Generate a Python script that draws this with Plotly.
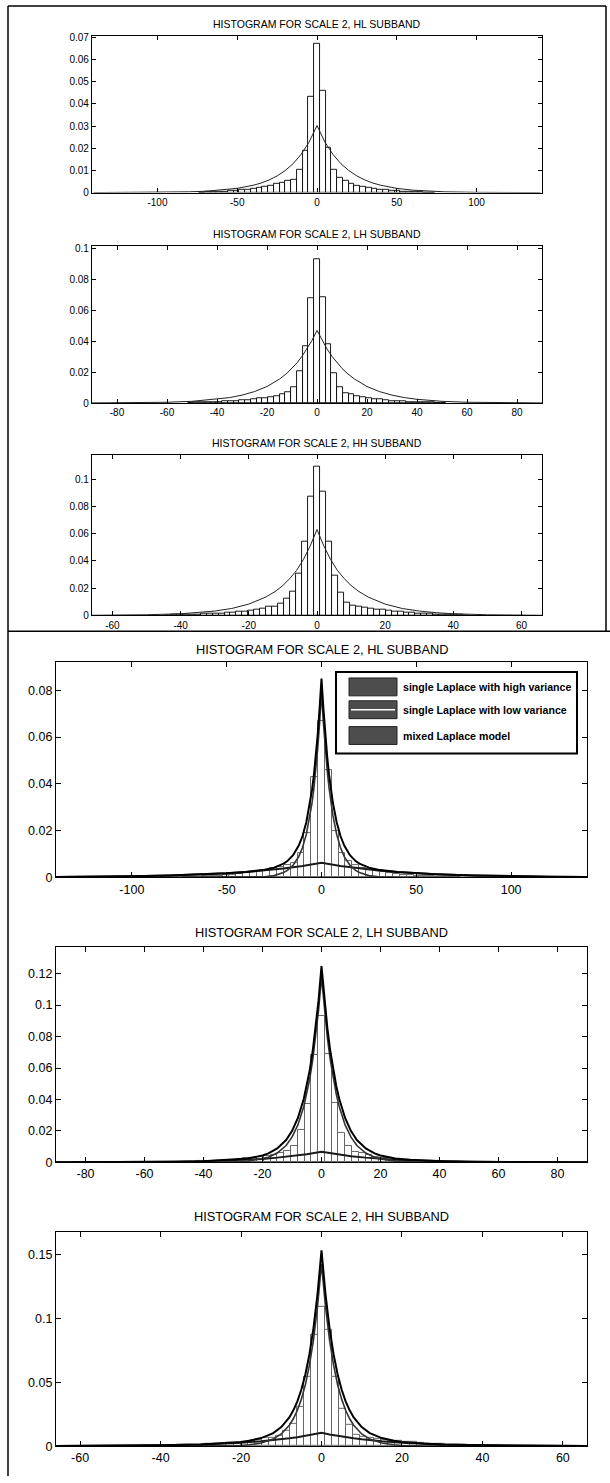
import plotly.graph_objects as go

W, H = 610, 1483

# ---------------- data ----------------
# Histogram bin centres and heights (same histograms appear in top and bottom halves)
hl_bins = [-72, -68.4, -64.8, -61.2, -57.6, -54, -50.4, -46.8, -43.2, -39.6, -36, -32.4, -28.8, -25.2,
           -21.6, -18, -14.4, -10.8, -7.2, -3.6, 0, 3.6, 7.2, 10.8, 14.4, 18, 21.6, 25.2, 28.8, 32.4,
           36, 39.6, 43.2, 46.8, 50.4, 54, 57.6, 61.2, 64.8, 68.4, 72]
hl_hist = [0.0001, 0.0002, 0.0003, 0.0004, 0.0005, 0.0007, 0.0009, 0.0011, 0.0014, 0.0017, 0.0021,
           0.0026, 0.0031, 0.0038, 0.0045, 0.0053, 0.006, 0.0105, 0.019, 0.043, 0.067, 0.046, 0.020,
           0.0105, 0.0068, 0.0053, 0.004, 0.0033, 0.0027, 0.0022, 0.0018, 0.0014, 0.0011, 0.0009,
           0.0007, 0.0005, 0.0004, 0.0003, 0.0002, 0.0001, 0.0001]
hl_width = 3.6

lh_bins = [-50.6, -48.3, -46, -43.7, -41.4, -39.1, -36.8, -34.5, -32.2, -29.9, -27.6, -25.3, -23, -20.7,
           -18.4, -16.1, -13.8, -11.5, -9.2, -6.9, -4.6, -2.3, 0, 2.3, 4.6, 6.9, 9.2, 11.5, 13.8, 16.1,
           18.4, 20.7, 23, 25.3, 27.6, 29.9, 32.2, 34.5, 36.8, 39.1, 41.4, 43.7, 46, 48.3, 50.6]
lh_hist = [0.0002, 0.0003, 0.0004, 0.0005, 0.0006, 0.0008, 0.001, 0.0012, 0.0015, 0.0018, 0.0021,
           0.0025, 0.0029, 0.0034, 0.004, 0.0047, 0.0057, 0.007, 0.0105, 0.0204, 0.037, 0.068, 0.093,
           0.0687, 0.038, 0.019, 0.0105, 0.0064, 0.0058, 0.0045, 0.0037, 0.0031, 0.0026, 0.0022,
           0.0018, 0.0015, 0.0012, 0.001, 0.0008, 0.0006, 0.0005, 0.0004, 0.0003, 0.0002, 0.0001]
lh_width = 2.3

hh_bins = [-43.75, -42, -40.25, -38.5, -36.75, -35, -33.25, -31.5, -29.75, -28, -26.25, -24.5, -22.75,
           -21, -19.25, -17.5, -15.75, -14, -12.25, -10.5, -8.75, -7, -5.25, -3.5, -1.75, 0, 1.75, 3.5,
           5.25, 7, 8.75, 10.5, 12.25, 14, 15.75, 17.5, 19.25, 21, 22.75, 24.5, 26.25, 28, 29.75, 31.5,
           33.25, 35, 36.75, 38.5, 40.25, 42, 43.75]
hh_hist = [0.0002, 0.0003, 0.0004, 0.0005, 0.0006, 0.0008, 0.001, 0.0012, 0.0014, 0.0016, 0.0019,
           0.0022, 0.0027, 0.0029, 0.0034, 0.0044, 0.005, 0.0063, 0.0066, 0.0085, 0.0124, 0.0177, 0.031,
           0.054, 0.087, 0.109, 0.091, 0.054, 0.029, 0.017, 0.0092, 0.0075, 0.0063, 0.0056, 0.0048,
           0.0041, 0.0039, 0.0036, 0.0031, 0.0026, 0.0021, 0.0018, 0.0015, 0.0012, 0.001, 0.0008,
           0.0006, 0.0005, 0.0004, 0.0003, 0.0002]
hh_width = 1.75

# Top half: single Laplace fit curves
hl_fit_x = [-140, -120, -100, -80, -70, -60, -50, -40, -35, -30, -25, -20, -15, -10, -5, 0,
            5, 10, 15, 20, 25, 30, 35, 40, 50, 60, 70, 80, 100, 120, 140]
hl_fit_y = [0.00001, 0.00004, 0.00012, 0.00035, 0.0006, 0.0011, 0.0019, 0.0033, 0.0043, 0.0057,
            0.0075, 0.0099, 0.0130, 0.0172, 0.0227, 0.0302, 0.0227, 0.0172, 0.0130, 0.0099, 0.0075,
            0.0057, 0.0043, 0.0033, 0.0019, 0.0011, 0.0006, 0.00035, 0.00012, 0.00004, 0.00001]

lh_fit_x = [-90, -80, -70, -60, -50, -40, -35, -30, -25, -20, -15, -12, -10, -8, -6, -4, -2, 0,
            2, 4, 6, 8, 10, 12, 15, 20, 25, 30, 35, 40, 50, 60, 70, 80, 90]
lh_fit_y = [0.00006, 0.00013, 0.00026, 0.0005, 0.0011, 0.0024, 0.0035, 0.0051, 0.0074, 0.0107,
            0.0155, 0.0193, 0.0224, 0.0260, 0.0302, 0.0350, 0.0405, 0.047, 0.0405, 0.0350, 0.0302,
            0.0260, 0.0224, 0.0193, 0.0155, 0.0107, 0.0074, 0.0051, 0.0035, 0.0024, 0.0011, 0.0005,
            0.00026, 0.00013, 0.00006]

hh_fit_x = [-66, -60, -50, -40, -35, -30, -25, -20, -15, -12, -10, -8, -6, -4, -2, 0,
            2, 4, 6, 8, 10, 12, 15, 20, 25, 30, 35, 40, 50, 60, 66]
hh_fit_y = [0.0001, 0.0002, 0.0005, 0.0012, 0.002, 0.0032, 0.0051, 0.0083, 0.0135, 0.018, 0.022,
            0.027, 0.033, 0.041, 0.051, 0.063, 0.051, 0.041, 0.033, 0.027, 0.022, 0.018, 0.0135,
            0.0083, 0.0051, 0.0032, 0.002, 0.0012, 0.0005, 0.0002, 0.0001]

# Bottom half: high-variance, low-variance and mixed Laplace curves
hl_high_x = [-140, -120, -100, -80, -60, -50, -40, -30, -20, -10, 0, 10, 20, 30, 40, 50, 60, 80, 100, 120, 140]
hl_high_y = [0.0002, 0.0003, 0.0005, 0.00085, 0.0014, 0.0018, 0.0023, 0.003, 0.0038, 0.0049, 0.0063,
             0.0049, 0.0038, 0.003, 0.0023, 0.0018, 0.0014, 0.00085, 0.0005, 0.0003, 0.0002]
hl_low_x = [-140, -50, -40, -30, -25, -20, -18, -15, -12, -10, -8, -6, -5, -4, -3, -2, -1, 0,
            1, 2, 3, 4, 5, 6, 8, 10, 12, 15, 18, 20, 25, 30, 40, 50, 140]
hl_low_y = [0, 0, 0.00005, 0.0003, 0.0008, 0.0021, 0.003, 0.0052, 0.0089, 0.0128, 0.0184, 0.0265,
            0.0318, 0.0381, 0.0458, 0.055, 0.0661, 0.079, 0.0661, 0.055, 0.0458, 0.0381, 0.0318,
            0.0265, 0.0184, 0.0128, 0.0089, 0.0052, 0.003, 0.0021, 0.0008, 0.0003, 0.00005, 0, 0]
hl_mix_x = [-140, -120, -100, -80, -60, -50, -40, -30, -25, -20, -18, -15, -12, -10, -8, -6, -5, -4,
            -3, -2, -1, 0, 1, 2, 3, 4, 5, 6, 8, 10, 12, 15, 18, 20, 25, 30, 40, 50, 60, 80, 100, 120, 140]
hl_mix_y = [0.0002, 0.0003, 0.0005, 0.00085, 0.0014, 0.0018, 0.0023, 0.0033, 0.0042, 0.0059, 0.007,
            0.0095, 0.0136, 0.0177, 0.0236, 0.0319, 0.0374, 0.0438, 0.0516, 0.061, 0.0722, 0.085,
            0.0722, 0.061, 0.0516, 0.0438, 0.0374, 0.0319, 0.0236, 0.0177, 0.0136, 0.0095, 0.007,
            0.0059, 0.0042, 0.0033, 0.0023, 0.0018, 0.0014, 0.00085, 0.0005, 0.0003, 0.0002]

lh_high_x = [-90, -80, -70, -60, -50, -40, -30, -25, -20, -15, -10, -5, 0, 5, 10, 15, 20, 25, 30, 40, 50, 60, 70, 80, 90]
lh_high_y = [0.00005, 0.00008, 0.00014, 0.00024, 0.0004, 0.0007, 0.0013, 0.0017, 0.0022, 0.003, 0.0039,
             0.0052, 0.0068, 0.0052, 0.0039, 0.003, 0.0022, 0.0017, 0.0013, 0.0007, 0.0004, 0.00024,
             0.00014, 0.00008, 0.00005]
lh_low_x = [-90, -40, -30, -25, -20, -18, -15, -12, -10, -8, -6, -5, -4, -3, -2, -1, 0,
            1, 2, 3, 4, 5, 6, 8, 10, 12, 15, 18, 20, 25, 30, 40, 90]
lh_low_y = [0, 0.00004, 0.0003, 0.0008, 0.0022, 0.0032, 0.0059, 0.0107, 0.016, 0.0238, 0.0355, 0.0434,
            0.053, 0.0648, 0.0791, 0.0966, 0.118, 0.0966, 0.0791, 0.0648, 0.053, 0.0434, 0.0355,
            0.0238, 0.016, 0.0107, 0.0059, 0.0032, 0.0022, 0.0008, 0.0003, 0.00004, 0]
lh_mix_x = [-90, -80, -70, -60, -50, -40, -30, -25, -20, -18, -15, -12, -10, -8, -6, -5, -4, -3, -2, -1, 0,
            1, 2, 3, 4, 5, 6, 8, 10, 12, 15, 18, 20, 25, 30, 40, 50, 60, 70, 80, 90]
lh_mix_y = [0.00005, 0.00008, 0.00014, 0.00024, 0.0004, 0.0007, 0.0016, 0.0025, 0.0044, 0.0057, 0.0089,
            0.0142, 0.0199, 0.0282, 0.0404, 0.0486, 0.0585, 0.0705, 0.0852, 0.103, 0.1248, 0.103,
            0.0852, 0.0705, 0.0585, 0.0486, 0.0404, 0.0282, 0.0199, 0.0142, 0.0089, 0.0057, 0.0044,
            0.0025, 0.0016, 0.0007, 0.0004, 0.00024, 0.00014, 0.00008, 0.00005]

hh_high_x = [-66, -60, -50, -40, -30, -25, -20, -15, -12, -10, -8, -6, -4, -2, 0,
             2, 4, 6, 8, 10, 12, 15, 20, 25, 30, 40, 50, 60, 66]
hh_high_y = [0.00013, 0.0002, 0.0004, 0.0007, 0.0014, 0.002, 0.0028, 0.0039, 0.0047, 0.0054, 0.0062,
             0.007, 0.008, 0.0092, 0.0105, 0.0092, 0.008, 0.007, 0.0062, 0.0054, 0.0047, 0.0039,
             0.0028, 0.002, 0.0014, 0.0007, 0.0004, 0.0002, 0.00013]
hh_low_x = [-66, -30, -25, -20, -18, -15, -12, -10, -8, -7, -6, -5, -4, -3, -2, -1, 0,
            1, 2, 3, 4, 5, 6, 7, 8, 10, 12, 15, 18, 20, 25, 30, 66]
hh_low_y = [0, 0.00004, 0.0002, 0.0006, 0.0011, 0.0025, 0.0056, 0.0096, 0.0164, 0.0215, 0.0282,
            0.0369, 0.0484, 0.0635, 0.0832, 0.1091, 0.143, 0.1091, 0.0832, 0.0635, 0.0484, 0.0369,
            0.0282, 0.0215, 0.0164, 0.0096, 0.0056, 0.0025, 0.0011, 0.0006, 0.0002, 0.00004, 0]
hh_mix_x = [-66, -60, -50, -40, -30, -25, -20, -18, -15, -12, -10, -8, -7, -6, -5, -4, -3, -2, -1, 0,
            1, 2, 3, 4, 5, 6, 7, 8, 10, 12, 15, 18, 20, 25, 30, 40, 50, 60, 66]
hh_mix_y = [0.00013, 0.0002, 0.0004, 0.0007, 0.0014, 0.0022, 0.0034, 0.0043, 0.0064, 0.0103, 0.015,
            0.0226, 0.0281, 0.0352, 0.0444, 0.0564, 0.0721, 0.0924, 0.1189, 0.1535, 0.1189, 0.0924,
            0.0721, 0.0564, 0.0444, 0.0352, 0.0281, 0.0226, 0.015, 0.0103, 0.0064, 0.0043, 0.0034,
            0.0022, 0.0014, 0.0007, 0.0004, 0.0002, 0.00013]

# Titles and ticks
titles = ["HISTOGRAM FOR SCALE 2, HL SUBBAND", "HISTOGRAM FOR SCALE 2, LH SUBBAND",
          "HISTOGRAM FOR SCALE 2, HH SUBBAND"]
legend_labels = ["single Laplace with high variance", "single Laplace with low variance",
                 "mixed Laplace model"]

hl_xticks = [-100, -50, 0, 50, 100]
lh_xticks = [-80, -60, -40, -20, 0, 20, 40, 60, 80]
hh_xticks = [-60, -40, -20, 0, 20, 40, 60]
top_hl_yticks = [0, 0.01, 0.02, 0.03, 0.04, 0.05, 0.06, 0.07]
top_hl_ylabels = ["0", "0.01", "0.02", "0.03", "0.04", "0.05", "0.06", "0.07"]
top_lh_yticks = [0, 0.02, 0.04, 0.06, 0.08, 0.1]
top_lh_ylabels = ["0", "0.02", "0.04", "0.06", "0.08", "0.1"]
top_hh_yticks = [0, 0.02, 0.04, 0.06, 0.08, 0.1]
top_hh_ylabels = ["0", "0.02", "0.04", "0.06", "0.08", "0.1"]
bot_hl_yticks = [0, 0.02, 0.04, 0.06, 0.08]
bot_hl_ylabels = ["0", "0.02", "0.04", "0.06", "0.08"]
bot_lh_yticks = [0, 0.02, 0.04, 0.06, 0.08, 0.1, 0.12]
bot_lh_ylabels = ["0", "0.02", "0.04", "0.06", "0.08", "0.1", "0.12"]
bot_hh_yticks = [0, 0.05, 0.1, 0.15]
bot_hh_ylabels = ["0", "0.05", "0.1", "0.15"]

# ---------------- layout geometry (pixels) ----------------
panels = [
    dict(x0=92, x1=542, y0=32, y1=190, xr=[-141, 141], yr=[0, 0.0707], ty=20, fs=10, tfs=10.5),
    dict(x0=92, x1=542, y0=244, y1=402, xr=[-90, 90], yr=[0, 0.1015], ty=232, fs=10, tfs=10.5),
    dict(x0=92, x1=542, y0=454, y1=616, xr=[-66, 66], yr=[0, 0.118], ty=442, fs=10, tfs=10.5),
    dict(x0=56, x1=587, y0=663, y1=880, xr=[-140, 140], yr=[0, 0.092], ty=650, fs=12.5, tfs=12.8),
    dict(x0=56, x1=587, y0=950, y1=1167, xr=[-90, 90], yr=[0, 0.137], ty=935, fs=12.5, tfs=12.8),
    dict(x0=56, x1=587, y0=1237, y1=1453, xr=[-66, 66], yr=[0, 0.168], ty=1222, fs=12.5, tfs=12.8),
]
xticks = [hl_xticks, lh_xticks, hh_xticks, hl_xticks, lh_xticks, hh_xticks]
yticks = [(top_hl_yticks, top_hl_ylabels), (top_lh_yticks, top_lh_ylabels), (top_hh_yticks, top_hh_ylabels),
          (bot_hl_yticks, bot_hl_ylabels), (bot_lh_yticks, bot_lh_ylabels), (bot_hh_yticks, bot_hh_ylabels)]
ptitles = titles + titles


def X(px):
    return px / W


def Y(py):
    return 1 - py / H


FONT = "Arial, Liberation Sans, Helvetica, sans-serif"

fig = go.Figure()
layout = dict(width=W, height=H, autosize=False, margin=dict(l=0, r=0, t=0, b=0),
              paper_bgcolor="white", plot_bgcolor="white", showlegend=False,
              font=dict(family=FONT, color="black"))
annotations = []
shapes = []

for i, p in enumerate(panels):
    n = "" if i == 0 else str(i + 1)
    tl = 4 if i < 3 else 5
    common = dict(showline=True, linecolor="black", linewidth=1.2, mirror="ticks", ticks="inside",
                  ticklen=tl, tickcolor="black", tickwidth=1, showgrid=False, zeroline=False,
                  tickfont=dict(family=FONT, size=p["fs"], color="black"), fixedrange=True)
    layout["xaxis" + n] = dict(common, domain=[X(p["x0"]), X(p["x1"])], range=p["xr"],
                               anchor="y" + n, tickmode="array", tickvals=xticks[i],
                               ticktext=[str(v) for v in xticks[i]])
    layout["yaxis" + n] = dict(common, domain=[Y(p["y1"]), Y(p["y0"])], range=p["yr"],
                               anchor="x" + n, tickmode="array", tickvals=yticks[i][0],
                               ticktext=yticks[i][1])
    annotations.append(dict(text=ptitles[i], x=X((p["x0"] + p["x1"]) / 2), y=Y(p["ty"]),
                            xref="paper", yref="paper", showarrow=False, xanchor="center",
                            yanchor="middle", font=dict(family=FONT, size=p["tfs"], color="black")))

hists = [(hl_bins, hl_hist, hl_width), (lh_bins, lh_hist, lh_width), (hh_bins, hh_hist, hh_width)]
fits = [(hl_fit_x, hl_fit_y), (lh_fit_x, lh_fit_y), (hh_fit_x, hh_fit_y)]
models = [
    [(hl_high_x, hl_high_y), (hl_low_x, hl_low_y), (hl_mix_x, hl_mix_y)],
    [(lh_high_x, lh_high_y), (lh_low_x, lh_low_y), (lh_mix_x, lh_mix_y)],
    [(hh_high_x, hh_high_y), (hh_low_x, hh_low_y), (hh_mix_x, hh_mix_y)],
]

for i in range(6):
    n = "" if i == 0 else str(i + 1)
    xa, ya = "x" + n, "y" + n
    b, h, w = hists[i % 3]
    top = i < 3
    fig.add_trace(go.Bar(x=b, y=h, width=w, xaxis=xa, yaxis=ya,
                         marker=dict(color="white",
                                     line=dict(color="black" if top else "#666", width=0.9 if top else 1)),
                         hoverinfo="skip"))
    if top:
        fx, fy = fits[i]
        fig.add_trace(go.Scatter(x=fx, y=fy, mode="lines", xaxis=xa, yaxis=ya,
                                 line=dict(color="#222", width=1), hoverinfo="skip"))
    else:
        for k, (mx, my) in enumerate(models[i - 3]):
            fig.add_trace(go.Scatter(x=mx, y=my, mode="lines", xaxis=xa, yaxis=ya,
                                     name=legend_labels[k],
                                     line=dict(color=["#1a1a1a", "#333", "#000"][k],
                                               width=[2, 1.6, 2][k]),
                                     hoverinfo="skip"))

layout["bargap"] = 0

# Outer frame and divider
line_style = dict(color="black", width=1.5)
shapes += [
    dict(type="line", xref="paper", yref="paper", x0=X(8), x1=X(606), y0=Y(2), y1=Y(2), line=line_style),
    dict(type="line", xref="paper", yref="paper", x0=X(8), x1=X(8), y0=Y(2), y1=Y(1483), line=line_style),
    dict(type="line", xref="paper", yref="paper", x0=X(606), x1=X(606), y0=Y(2), y1=Y(632), line=line_style),
    dict(type="line", xref="paper", yref="paper", x0=X(8), x1=X(610), y0=Y(632), y1=Y(632), line=line_style),
]

# Manual legend in the HL (bottom) panel
lg_x0, lg_x1, lg_y0, lg_y1 = 336, 577, 673, 755
shapes.append(dict(type="rect", xref="paper", yref="paper", x0=X(lg_x0), x1=X(lg_x1), y0=Y(lg_y0),
                   y1=Y(lg_y1), line=dict(color="black", width=2), fillcolor="white"))
rows = [(679, 697), (702, 720), (728, 746)]
for k, (r0, r1) in enumerate(rows):
    shapes.append(dict(type="rect", xref="paper", yref="paper", x0=X(349), x1=X(397), y0=Y(r0), y1=Y(r1),
                       line=dict(color="#222", width=1), fillcolor="#4d4d4d"))
    if k == 1:
        shapes.append(dict(type="line", xref="paper", yref="paper", x0=X(351), x1=X(395),
                           y0=Y((r0 + r1) / 2), y1=Y((r0 + r1) / 2), line=dict(color="white", width=1.5)))
    annotations.append(dict(text="<b>" + legend_labels[k] + "</b>", x=X(401), y=Y((r0 + r1) / 2),
                            xref="paper", yref="paper", showarrow=False, xanchor="left", yanchor="middle",
                            font=dict(family="Liberation Sans, Arial, sans-serif", size=10.6, color="black")))

layout["annotations"] = annotations
layout["shapes"] = shapes
fig.update_layout(**layout)
fig.write_html("out.html")
